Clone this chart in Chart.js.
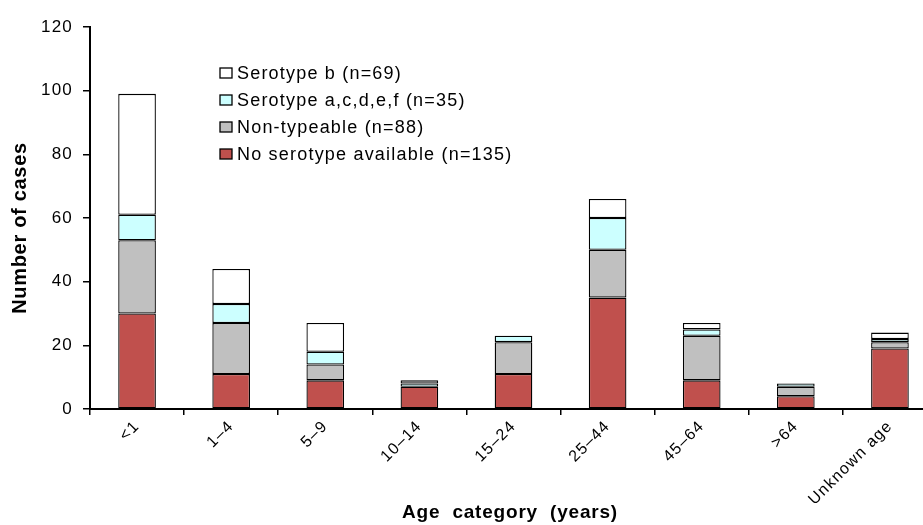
<!DOCTYPE html>
<html>
<head>
<meta charset="utf-8">
<script src="https://cdn.jsdelivr.net/npm/chart.js@4"></script>
<style>
  html, body { margin: 0; padding: 0; background: #fff; overflow: hidden; }
  #wrap { width: 937px; height: 525px; }
</style>
</head>
<body>
<div id="wrap"><canvas id="chart" width="937" height="525"></canvas></div>
<script>
// age categories on the x axis
const ageLabels = ['<1', '1\u20134', '5\u20139', '10\u201314', '15\u201324', '25\u201344', '45\u201364', '>64', 'Unknown age'];

// cases per serotype group, bottom of the stack first
const noSerotype    = [30, 11, 9, 7, 11, 35, 9, 4, 19];
const nonTypeable   = [23, 16, 5, 0, 10, 15, 14, 3, 2];
const serotypeOther = [8, 6, 4, 1, 2, 10, 2, 1, 1];
const serotypeB     = [38, 11, 9, 1, 0, 6, 2, 0, 2];

const yTicks = [0, 20, 40, 60, 80, 100, 120];
const xTitle = 'Age category (years)';
const yTitle = 'Number of cases';

const FONT = '"Liberation Sans", Arial, sans-serif';
Chart.defaults.font.family = FONT;
Chart.defaults.color = '#000';

// the original's text is set a little loose
const spacing = {
    id: 'spacing',
    beforeUpdate(chart) { chart.ctx.letterSpacing = '1.2px'; },
    beforeDraw(chart) { chart.ctx.letterSpacing = '1.2px'; }
};

// axis titles and the legend, drawn by hand so they sit where the original has them
const annotations = {
    id: 'annotations',
    afterDraw(chart) {
        const ctx = chart.ctx;
        ctx.save();
        ctx.fillStyle = '#000';

        // y title
        ctx.save();
        ctx.translate(20, 228);
        ctx.rotate(-Math.PI / 2);
        ctx.font = 'bold 20px ' + FONT;
        ctx.letterSpacing = '0.7px';
        ctx.textAlign = 'center';
        ctx.textBaseline = 'middle';
        ctx.fillText(yTitle, 0, 0);
        ctx.restore();

        // x title
        ctx.font = 'bold 19px ' + FONT;
        ctx.letterSpacing = '0.8px';
        ctx.wordSpacing = '6px';
        ctx.textAlign = 'center';
        ctx.textBaseline = 'alphabetic';
        ctx.fillText(xTitle, 510, 518);
        ctx.wordSpacing = '0px';

        // legend, top entry = top of the stack
        const sets = chart.data.datasets.slice().reverse();
        ctx.font = '18px ' + FONT;
        ctx.letterSpacing = '1.2px';
        ctx.textAlign = 'left';
        ctx.textBaseline = 'middle';
        sets.forEach((ds, i) => {
            const y = 73 + i * 27;
            ctx.fillStyle = ds.backgroundColor;
            ctx.fillRect(220, y - 5, 12, 10);
            ctx.lineWidth = 1.3;
            ctx.strokeStyle = '#000';
            ctx.strokeRect(220, y - 5, 12, 10);
            ctx.fillStyle = '#000';
            ctx.fillText(ds.label, 237, y + 1);
        });
        ctx.restore();
    }
};

const seg = (label, data, color) => ({
    label: label,
    data: data.map(v => (v === 0 ? null : v)),
    backgroundColor: color,
    borderColor: '#000',
    borderWidth: 1.3,
    borderSkipped: false,
    barPercentage: 0.4,
    categoryPercentage: 1
});

new Chart(document.getElementById('chart'), {
    type: 'bar',
    data: {
        labels: ageLabels,
        datasets: [
            seg('No serotype available (n=135)', noSerotype, '#C0504D'),
            seg('Non-typeable (n=88)', nonTypeable, '#C0C0C0'),
            seg('Serotype a,c,d,e,f (n=35)', serotypeOther, '#CCFFFF'),
            seg('Serotype b (n=69)', serotypeB, '#FFFFFF')
        ]
    },
    options: {
        responsive: false,
        animation: false,
        layout: { padding: { top: 27, right: 0, bottom: 2, left: 0 } },
        plugins: {
            legend: { display: false },
            tooltip: { enabled: false }
        },
        scales: {
            x: {
                stacked: true,
                grid: {
                    display: true,
                    offset: true,
                    drawOnChartArea: false,
                    drawTicks: true,
                    tickLength: 6,
                    color: '#000',
                    lineWidth: 1.5
                },
                border: { display: true, color: '#000', width: 2 },
                ticks: {
                    minRotation: 45,
                    maxRotation: 45,
                    font: { size: 16 },
                    padding: 2
                },
                afterFit(scale) { scale.height = 114; }
            },
            y: {
                stacked: true,
                min: 0,
                max: 120,
                afterBuildTicks(scale) { scale.ticks = yTicks.map(v => ({ value: v })); },
                grid: {
                    display: true,
                    drawOnChartArea: false,
                    drawTicks: true,
                    tickLength: 7,
                    color: '#000',
                    lineWidth: 1.5
                },
                border: { display: true, color: '#000', width: 2 },
                ticks: { font: { size: 17 }, padding: 10 },
                afterFit(scale) { scale.width = 90; }
            }
        }
    },
    plugins: [spacing, annotations]
});
</script>
</body>
</html>
